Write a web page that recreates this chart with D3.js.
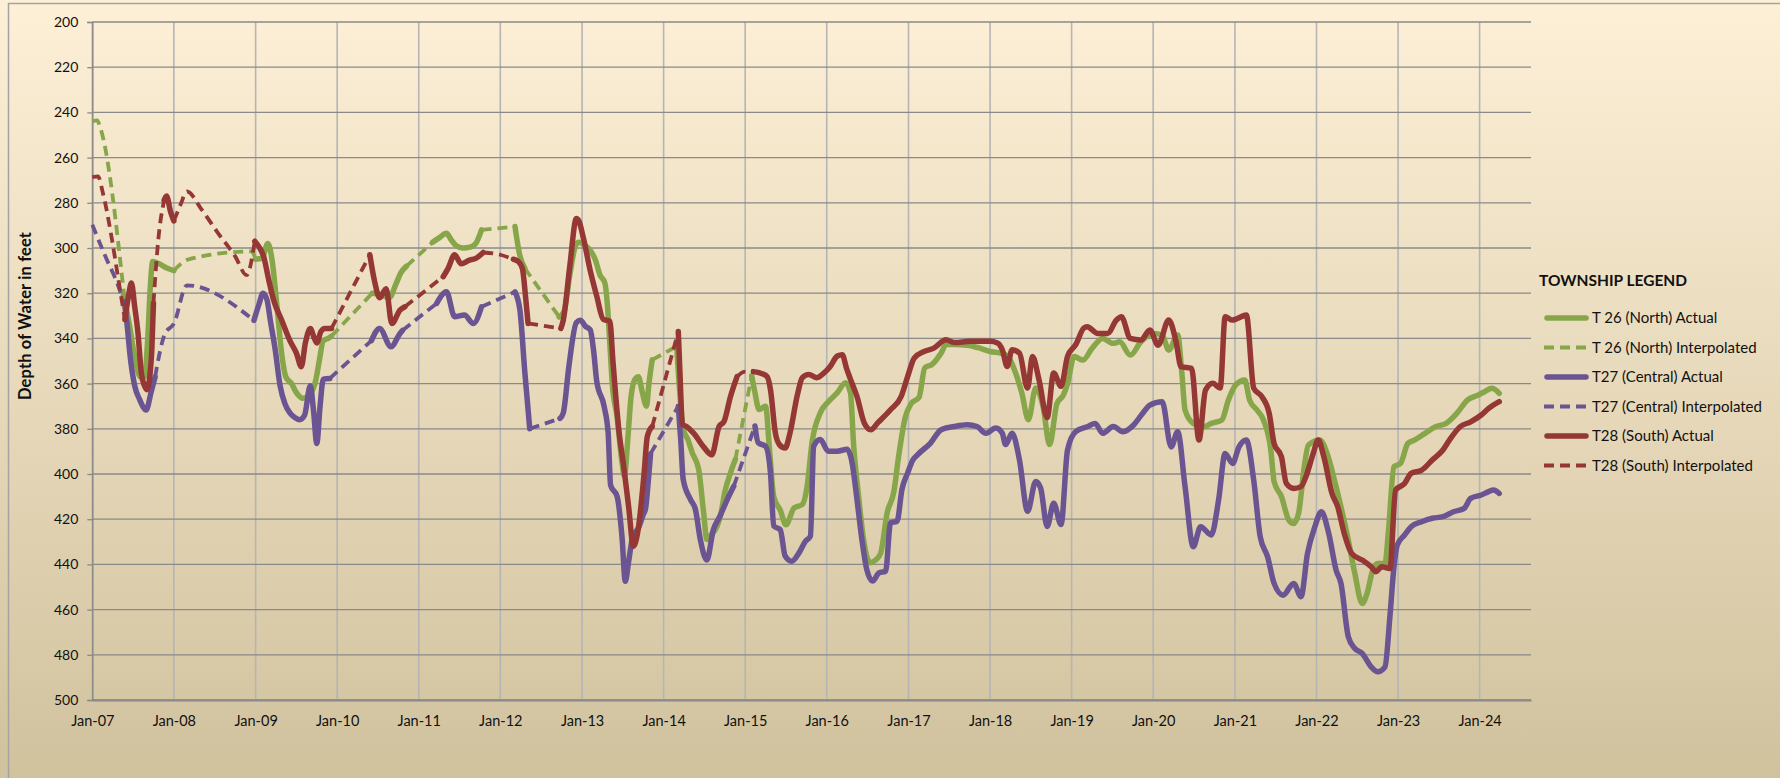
<!DOCTYPE html>
<html><head><meta charset="utf-8">
<script src="https://cdn.jsdelivr.net/npm/d3@7"></script>
<style>body{margin:0;background:#fff}svg{display:block;font-family:Lato,"Open Sans",sans-serif}</style>
</head><body>
<svg id="c" width="1780" height="778"></svg>
<script>
// ---------- DATA ----------
const yearTicks = [2007,2008,2009,2010,2011,2012,2013,2014,2015,2016,2017,2018,2019,2020,2021,2022,2023,2024];
const depthTicks = [200,220,240,260,280,300,320,340,360,380,400,420,440,460,480,500];
const seriesNames = ["T 26 (North) Actual","T 26 (North) Interpolated","T27 (Central) Actual","T27 (Central) Interpolated","T28 (South) Actual","T28 (South) Interpolated"];
const yTitle = "Depth of Water in feet";
const legendTitle = "TOWNSHIP LEGEND";

// [decimal year, depth in feet]; null = gap
const t26Actual = [
[2007.38,321],[2007.45,333],[2007.52,348],[2007.59,357],[2007.64,357],[2007.68,340],[2007.71,318],[2007.74,306],[2007.82,307],[2007.92,309],[2008.0,310],
null,
[2009.0,305],[2009.08,304.5],[2009.15,298],[2009.2,305],[2009.26,325],[2009.32,347],[2009.37,357],[2009.44,360],[2009.5,364],[2009.58,366.5],[2009.68,364],[2009.74,358],[2009.78,350],[2009.83,341],[2009.89,340],[2009.93,339],
null,
[2010.43,320],[2010.52,320.5],[2010.64,322],[2010.72,316],[2010.78,311],[2010.85,308],
null,
[2011.17,297.5],[2011.25,295.5],[2011.34,293.5],[2011.4,296.5],[2011.46,299],[2011.54,300],[2011.64,299.5],[2011.7,298],[2011.77,292],
null,
[2012.18,290.5],[2012.24,303.5],[2012.3,309],
null,
[2012.72,330.5],[2012.78,328],[2012.85,312],[2012.92,299],[2012.96,297.5],[2013.04,299],[2013.1,301],[2013.16,305],[2013.22,312],[2013.28,315.5],[2013.31,325],[2013.34,342],[2013.37,360],[2013.43,375],[2013.49,395],[2013.52,401],[2013.56,385],[2013.6,366],[2013.65,358],[2013.69,357],[2013.74,364],[2013.79,370],[2013.82,360],[2013.86,349.5],
null,
[2014.16,343.5],[2014.2,365],[2014.24,380],[2014.3,385],[2014.35,390.5],[2014.43,398],[2014.49,417],[2014.53,429],[2014.58,427],[2014.65,423.5],[2014.7,418],[2014.75,408],[2014.82,399.5],[2014.88,393.5],
null,
[2015.08,356.5],[2015.12,364],[2015.17,371.5],[2015.25,370],[2015.3,390],[2015.35,410],[2015.43,416],[2015.5,422.5],[2015.6,415],[2015.7,413.5],[2015.76,405.4],[2015.82,386],[2015.92,373],[2016.02,368],[2016.13,364],[2016.23,359.6],[2016.29,364],[2016.33,387.7],[2016.39,410],[2016.45,429],[2016.53,439.3],[2016.6,438],[2016.66,435],[2016.74,417],[2016.82,408],[2016.88,392],[2016.96,375],[2017.03,369],[2017.13,366],[2017.2,353],[2017.29,351.5],[2017.4,346.5],[2017.46,342.7],[2017.56,342.7],[2017.72,343],[2017.89,344.5],[2018.0,345.8],[2018.13,346.5],[2018.22,348],[2018.3,354],[2018.39,364.3],[2018.47,376],[2018.56,362],[2018.65,370.2],[2018.73,387],[2018.82,368.8],[2018.9,365],[2018.95,360],[2019.03,348],[2019.14,349.6],[2019.25,344.4],[2019.38,340],[2019.51,342.2],[2019.59,341.5],[2019.72,347.4],[2019.85,341.5],[2020.0,337.8],[2020.11,338.5],[2020.19,345.2],[2020.3,338.5],[2020.35,355],[2020.39,371.7],[2020.49,377.6],[2020.62,379.1],[2020.71,377.6],[2020.84,376.1],[2020.92,367.3],[2021.01,360.6],[2021.12,358.4],[2021.18,367.3],[2021.27,371.7],[2021.35,376.1],[2021.44,389.4],[2021.48,403.4],[2021.57,410],[2021.66,420.4],[2021.72,421.9],[2021.78,417.4],[2021.85,396.8],[2021.9,387.2],[2022.04,385],[2022.13,390.9],[2022.22,402.7],[2022.3,414.5],[2022.39,429.2],[2022.47,444],[2022.56,457.3],[2022.62,452.8],[2022.69,442.5],[2022.75,439.6],[2022.84,439.6],[2022.88,426.3],[2022.95,396.8],[2023.03,395.3],[2023.12,386.5],[2023.2,385],[2023.33,382],[2023.46,379.1],[2023.59,377.6],[2023.72,373.2],[2023.85,367.3],[2023.98,365.1],[2024.06,363.6],[2024.15,362.1],[2024.24,364.3]
];
const t26Interp = [
[2007.0,244],[2007.06,243.5],[2007.1,247],[2007.39,321],
null,
[2008.0,310],[2008.18,305],[2008.95,301.5],[2009.0,305],
null,
[2009.93,339],[2010.43,320],
null,
[2010.85,308],[2011.17,297.5],
null,
[2011.77,292],[2012.18,290.5],
null,
[2012.3,309],[2012.72,330.5],
null,
[2013.86,349.5],[2014.16,343.5],
null,
[2014.88,393.5],[2015.08,356.5]
];
const t27Actual = [
[2007.4,326],[2007.43,335],[2007.46,346.5],[2007.52,361],[2007.58,367],[2007.66,371.7],[2007.72,364],[2007.77,357],
null,
[2008.98,332],[2009.04,325],[2009.09,320],[2009.14,323],[2009.18,332],[2009.24,345],[2009.3,361],[2009.36,369],[2009.42,373],[2009.48,375],[2009.54,376],[2009.6,374],[2009.67,361],[2009.71,372],[2009.75,386.5],[2009.79,370],[2009.83,358],[2009.91,357.7],
null,
[2010.42,341],[2010.52,335.6],[2010.66,343.7],[2010.77,337.8],[2010.8,336.5],
null,
[2011.22,324.5],[2011.34,319.4],[2011.44,330.4],[2011.56,329.7],[2011.67,333.4],[2011.77,326],
null,
[2012.18,319.4],[2012.24,327.5],[2012.3,355],[2012.36,380],
null,
[2012.73,375.4],[2012.77,373],[2012.84,352],[2012.93,333],[2012.98,332],[2013.04,334.6],[2013.1,336.2],[2013.14,345],[2013.18,359],[2013.27,370],[2013.32,382],[2013.35,405],[2013.43,410],[2013.49,428],[2013.53,447.5],[2013.57,439],[2013.62,428],[2013.69,424],[2013.75,418],[2013.78,415],[2013.81,404],[2013.84,391],
null,
[2014.18,370],[2014.21,385],[2014.24,402.4],[2014.33,411.3],[2014.39,415.7],[2014.45,429],[2014.53,438],[2014.61,424.6],[2014.69,418.7],[2014.78,411.3],[2014.86,405.4],
null,
[2015.12,378.8],[2015.16,386.2],[2015.25,387.7],[2015.31,399.5],[2015.35,423],[2015.43,424.6],[2015.49,436.3],[2015.57,438.6],[2015.66,434.9],[2015.74,429.7],[2015.8,427.5],[2015.84,387.7],[2015.92,384.7],[2016.02,389.9],[2016.13,389.9],[2016.25,389.1],[2016.31,395],[2016.37,411.3],[2016.43,429],[2016.49,442.3],[2016.56,447.4],[2016.64,443.7],[2016.72,443],[2016.78,421.6],[2016.86,420.9],[2016.92,406.8],[2016.99,399.5],[2017.05,394],[2017.11,391.5],[2017.27,386.3],[2017.4,380.4],[2017.56,379],[2017.72,378.2],[2017.84,379],[2017.95,382],[2018.07,379.7],[2018.15,382],[2018.19,387],[2018.27,382],[2018.36,393.7],[2018.46,416.5],[2018.56,403.3],[2018.62,406.2],[2018.7,423.2],[2018.78,412.9],[2018.87,422.4],[2018.95,389.3],[2019.05,381.2],[2019.2,379],[2019.29,377.6],[2019.38,382],[2019.51,379],[2019.63,381.3],[2019.76,378.3],[2019.87,373.2],[2019.96,369.5],[2020.11,368],[2020.22,388],[2020.3,381.3],[2020.39,405.6],[2020.49,432.2],[2020.58,423.3],[2020.71,427],[2020.8,411.5],[2020.88,390.9],[2020.97,395.3],[2021.05,388],[2021.14,385],[2021.23,402.7],[2021.31,427.8],[2021.4,436.6],[2021.48,448.4],[2021.59,453.6],[2021.72,448.4],[2021.81,454.3],[2021.89,435.1],[2021.98,423.3],[2022.06,416.7],[2022.15,426.3],[2022.24,442.5],[2022.3,448.4],[2022.39,472],[2022.47,477.2],[2022.56,479.4],[2022.67,485.3],[2022.75,487.5],[2022.84,485.3],[2022.9,463.2],[2022.95,441],[2022.99,431.4],[2023.08,427],[2023.16,423.3],[2023.29,421.1],[2023.42,419.6],[2023.55,418.9],[2023.68,416.7],[2023.81,415.2],[2023.89,410.8],[2024.02,409.3],[2024.11,407.8],[2024.17,407.1],[2024.24,408.6]
];
const t27Interp = [
[2007.0,289.7],[2007.16,303.7],[2007.32,317],[2007.4,326],
null,
[2007.77,357],[2007.89,338],[2008.0,333.5],[2008.16,316.5],[2008.98,332],
null,
[2009.91,357.7],[2010.42,341],
null,
[2010.8,336.5],[2011.22,324.5],
null,
[2011.77,326],[2012.18,319.4],
null,
[2012.36,380],[2012.73,375.4],
null,
[2013.84,391],[2014.18,370],
null,
[2014.86,405.4],[2015.12,378.8]
];
const t28Actual = [
[2007.4,331.7],[2007.44,322],[2007.48,315.5],[2007.52,326],[2007.56,337.6],[2007.6,355],[2007.64,361],[2007.67,362.7],[2007.71,355],[2007.73,345],[2007.75,324.4],
null,
[2007.88,279],[2007.91,277],[2007.96,284],[2008.0,288],
null,
[2008.99,297],[2009.05,300],[2009.1,304],[2009.16,314],[2009.22,323],[2009.32,332],[2009.42,341],[2009.5,346.5],[2009.56,352.5],[2009.61,342],[2009.67,335.6],[2009.72,340],[2009.75,342],[2009.8,337],[2009.85,335.6],[2009.93,335.6],
null,
[2010.4,303],[2010.46,315],[2010.52,322],[2010.6,318],[2010.67,333.4],[2010.77,327.5],[2010.83,326],
null,
[2011.3,312.7],[2011.36,309],[2011.44,303],[2011.52,307],[2011.62,305.4],[2011.7,304.6],[2011.79,302],
null,
[2012.16,305],[2012.22,306],[2012.27,309],[2012.31,322],[2012.34,333.4],
null,
[2012.74,335.6],[2012.77,332],[2012.85,308],[2012.93,287],[2012.96,288],[2013.02,296.2],[2013.1,310],[2013.18,321.3],[2013.26,331.6],[2013.34,332.4],[2013.38,350.8],[2013.45,380.3],[2013.51,396.5],[2013.57,414.2],[2013.63,432],[2013.69,424],[2013.76,400],[2013.8,383.4],[2013.86,379],
null,
[2014.18,337],[2014.2,355],[2014.23,378],[2014.28,379],[2014.37,382],[2014.49,388],[2014.59,391.5],[2014.68,379],[2014.74,376.8],[2014.82,365.7],[2014.9,356.9],
null,
[2015.1,354.7],[2015.2,355.5],[2015.27,357],[2015.31,362.6],[2015.37,381.8],[2015.42,387],[2015.49,388.5],[2015.55,381.8],[2015.64,365],[2015.7,357.4],[2015.78,356],[2015.88,357.4],[2015.96,355.5],[2016.04,352.5],[2016.13,347.8],[2016.19,347.2],[2016.24,353],[2016.29,358],[2016.37,365.7],[2016.46,377.5],[2016.54,380.4],[2016.62,377.5],[2016.78,371.6],[2016.91,365.7],[2016.99,356.8],[2017.07,348.7],[2017.19,345.8],[2017.31,344.3],[2017.46,340.6],[2017.56,341.8],[2017.76,341.3],[2018.0,341.3],[2018.09,342],[2018.15,345],[2018.21,352.4],[2018.27,345],[2018.36,346.5],[2018.46,362],[2018.52,348],[2018.6,358.3],[2018.7,375],[2018.78,355.3],[2018.87,361.2],[2018.95,348],[2019.05,342.8],[2019.15,335.4],[2019.19,334.8],[2019.32,337.8],[2019.44,337.8],[2019.55,331.9],[2019.61,330.4],[2019.72,340],[2019.85,340.7],[2019.96,336.3],[2020.06,343],[2020.19,331.9],[2020.28,341.5],[2020.34,352.5],[2020.47,353.3],[2020.56,385],[2020.64,362.9],[2020.73,359.9],[2020.82,362],[2020.88,330.4],[2020.97,331.9],[2021.03,331.2],[2021.14,329.7],[2021.23,362],[2021.33,365.8],[2021.42,373.2],[2021.48,386.5],[2021.57,392.4],[2021.63,404.2],[2021.72,406.4],[2021.81,405.6],[2021.87,401.2],[2021.96,390.9],[2022.02,385],[2022.09,392.4],[2022.19,408.6],[2022.26,414.5],[2022.34,426.3],[2022.43,435.1],[2022.56,438.1],[2022.67,441],[2022.73,443.2],[2022.8,441],[2022.9,441.8],[2022.97,407.1],[2023.08,404.2],[2023.16,399.7],[2023.29,398.3],[2023.42,393.8],[2023.55,389.4],[2023.63,385],[2023.76,379.1],[2023.89,376.9],[2024.02,373.9],[2024.11,371],[2024.24,368]
];
const t28Interp = [
[2007.0,268.6],[2007.07,268.3],[2007.13,275.7],[2007.24,296],[2007.32,314],[2007.4,331.7],
null,
[2007.75,324.4],[2007.81,296],[2007.88,279],
null,
[2008.0,288],[2008.08,281],[2008.16,275],[2008.34,283],[2008.54,293.4],[2008.75,303.7],[2008.89,312],[2008.99,297],
null,
[2009.93,335.6],[2010.4,303],
null,
[2010.83,326],[2011.3,312.7],
null,
[2011.79,302],[2012.0,303],[2012.16,305],
null,
[2012.34,333.4],[2012.74,335.6],
null,
[2013.86,379],[2014.18,337],
null,
[2014.9,356.9],[2015.0,354.7],[2015.1,354.7]
];

// ---------- SETUP ----------
const W = 1780, H = 778;
const plot = {left: 92.3, right: 1531, top: 22, bottom: 700};
const colors = {green: "#87a64a", purple: "#6a5491", red: "#953735"};
const series = [
  {name: seriesNames[0], data: t26Actual, color: colors.green, dashed: false},
  {name: seriesNames[1], data: t26Interp, color: colors.green, dashed: true},
  {name: seriesNames[2], data: t27Actual, color: colors.purple, dashed: false},
  {name: seriesNames[3], data: t27Interp, color: colors.purple, dashed: true},
  {name: seriesNames[4], data: t28Actual, color: colors.red, dashed: false},
  {name: seriesNames[5], data: t28Interp, color: colors.red, dashed: true}
];

function toDate(dy) {
  const yr = Math.floor(dy);
  const a = new Date(yr, 0, 1), b = new Date(yr + 1, 0, 1);
  return new Date(+a + (dy - yr) * (b - a));
}

const x = d3.scaleTime().domain([new Date(2007, 0, 1), new Date(2024, 7, 18)]).range([plot.left, plot.right]);
const y = d3.scaleLinear().domain([200, 500]).range([plot.top, plot.bottom]);

const svg = d3.select("#c");
const defs = svg.append("defs");
const g = defs.append("linearGradient").attr("id", "bg").attr("x1", 0).attr("y1", 0).attr("x2", 0).attr("y2", 1);
g.append("stop").attr("offset", "0%").attr("stop-color", "#fdf0d7");
g.append("stop").attr("offset", "100%").attr("stop-color", "#d1c29e");

svg.append("rect").attr("width", W).attr("height", H).attr("fill", "url(#bg)");
svg.append("rect").attr("x", 8.5).attr("y", 3.5).attr("width", W).attr("height", H + 20)
  .attr("fill", "none").attr("stroke", "#a3a3a3").attr("stroke-width", 1.5);

// gridlines
const tickDates = yearTicks.map(yr => new Date(yr, 0, 1));
svg.append("g").selectAll("line").data(tickDates).join("line")
  .attr("x1", d => x(d)).attr("x2", d => x(d))
  .attr("y1", plot.top).attr("y2", plot.bottom)
  .attr("stroke", "#b5b5b5").attr("stroke-width", 1.6);
svg.append("g").selectAll("line").data(depthTicks).join("line")
  .attr("x1", plot.left).attr("x2", plot.right)
  .attr("y1", d => y(d)).attr("y2", d => y(d))
  .attr("stroke", "#8a8a8a").attr("stroke-width", 1.3);

// axes
const yAxis = d3.axisLeft(y).tickValues(depthTicks).tickSize(5).tickPadding(9).tickFormat(d3.format("d"));
const ya = svg.append("g").attr("transform", `translate(${plot.left},0)`).call(yAxis);
ya.select(".domain").attr("stroke", "#8a8a8a").attr("stroke-width", 1.5);
ya.selectAll(".tick line").attr("stroke", "#8a8a8a").attr("stroke-width", 1.3);
ya.selectAll("text").attr("font-size", 14).attr("fill", "#111").attr("font-family", "Lato");

const xAxis = d3.axisBottom(x).tickValues(tickDates).tickSize(0).tickPadding(16).tickFormat(d3.timeFormat("%b-%y"));
const xa = svg.append("g").attr("transform", `translate(0,${plot.bottom})`).call(xAxis);
xa.select(".domain").attr("stroke", "#8a8a8a").attr("stroke-width", 2);
xa.selectAll("text").attr("font-size", 14.5).attr("fill", "#111").attr("font-family", "Lato");

// y title
svg.append("text").attr("transform", "translate(31,316) rotate(-90)")
  .attr("text-anchor", "middle").attr("font-size", 16.5).attr("font-weight", "bold").attr("fill", "#111")
  .attr("textLength", 168).attr("lengthAdjust", "spacing")
  .text(yTitle);

// lines
const line = d3.line().defined(d => d !== null)
  .x(d => x(toDate(d[0]))).y(d => y(d[1])).curve(d3.curveMonotoneX);

svg.append("g").selectAll("path").data(series).join("path")
  .attr("d", s => line(s.data))
  .attr("fill", "none")
  .attr("stroke", s => s.color)
  .attr("stroke-width", s => s.dashed ? 3.8 : 5.5)
  .attr("stroke-dasharray", s => s.dashed ? "10,6" : null)
  .attr("stroke-linejoin", "round")
  .attr("stroke-linecap", s => s.dashed ? "butt" : "round");

// legend
const lg = svg.append("g");
lg.append("text").attr("x", 1539).attr("y", 286).attr("font-size", 15.5).attr("font-weight", "bold").attr("fill", "#111").text(legendTitle);
const items = lg.selectAll("g.item").data(series).join("g").attr("class", "item")
  .attr("transform", (d, i) => `translate(0,${318 + i * 29.5})`);
items.append("line").attr("x1", d => d.dashed ? 1544 : 1547).attr("x2", d => d.dashed ? 1590 : 1586)
  .attr("y1", 0).attr("y2", 0)
  .attr("stroke", d => d.color).attr("stroke-width", d => d.dashed ? 3.8 : 5.5)
  .attr("stroke-dasharray", d => d.dashed ? "10,6" : null)
  .attr("stroke-linecap", d => d.dashed ? "butt" : "round");
items.append("text").attr("x", 1592).attr("y", 5).attr("font-size", 15).attr("fill", "#111").text(d => d.name);
</script>
</body></html>
